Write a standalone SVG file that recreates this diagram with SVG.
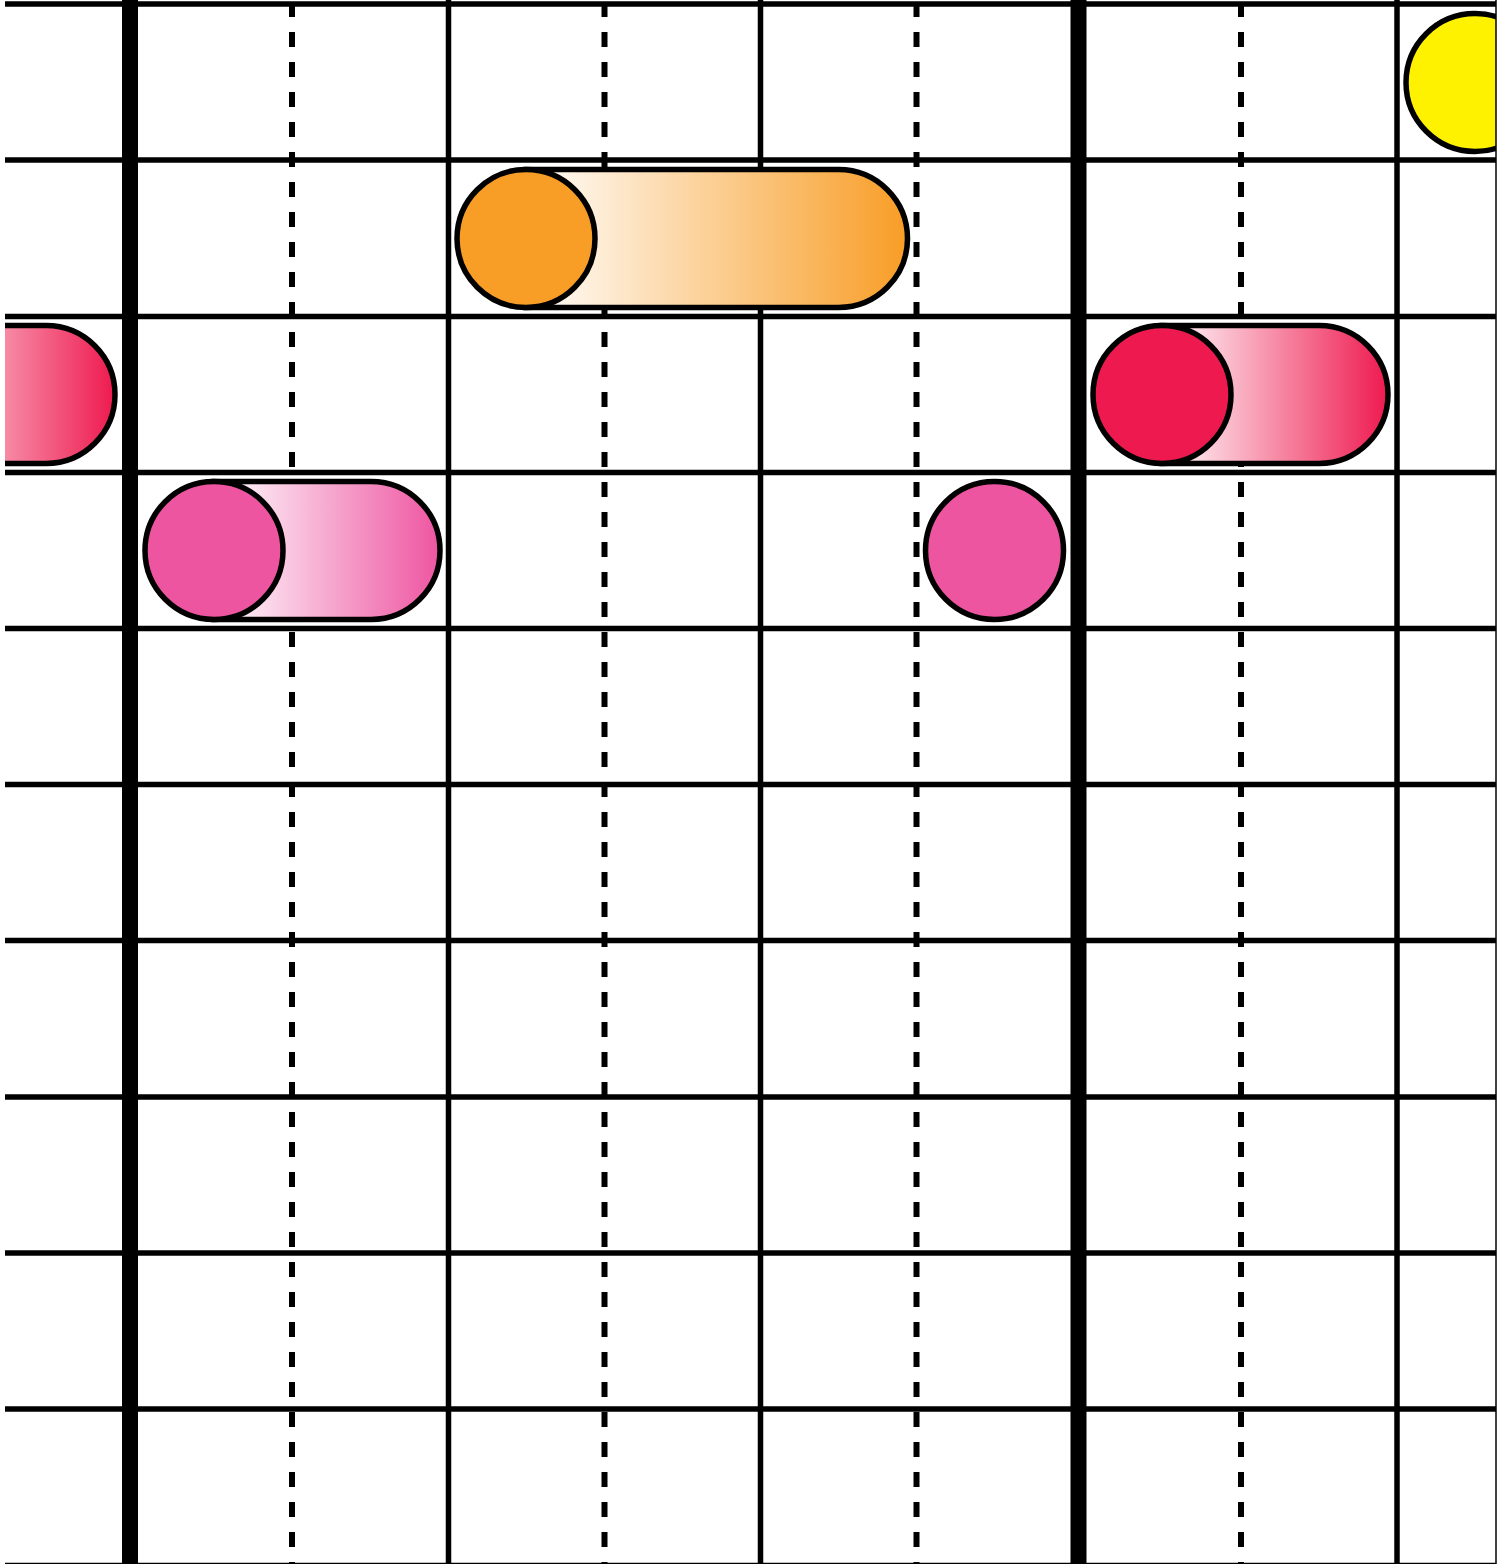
<svg xmlns="http://www.w3.org/2000/svg" width="1510" height="1564" viewBox="0 0 1510 1564">
<style>
.h{stroke:#000;stroke-width:5.5;fill:none}
.v{stroke:#000;stroke-width:5.5;fill:none}
.t{stroke:#000;stroke-width:16;fill:none}
.d{stroke:#000;stroke-width:6;stroke-dasharray:15 15;fill:none}
.n{stroke:#000;stroke-width:5.5}
</style>
<defs>
<clipPath id="clip"><rect x="5" y="0" width="1491" height="1564"/></clipPath>
<linearGradient id="gOr" x1="0" y1="0" x2="1" y2="0"><stop offset="0" stop-color="#fff"/><stop offset="1" stop-color="#F89D26"/></linearGradient>
<linearGradient id="gRed" x1="0" y1="0" x2="1" y2="0"><stop offset="0" stop-color="#fff"/><stop offset="1" stop-color="#EE1A4F"/></linearGradient>
<linearGradient id="gPk" x1="0" y1="0" x2="1" y2="0"><stop offset="0" stop-color="#fff"/><stop offset="1" stop-color="#EE55A1"/></linearGradient>
</defs>
<g clip-path="url(#clip)">
<g id="grid">
<line class="d" x1="292" y1="2" x2="292" y2="1564"/>
<line class="d" x1="604.5" y1="2" x2="604.5" y2="1564"/>
<line class="d" x1="916.5" y1="2" x2="916.5" y2="1564"/>
<line class="d" x1="1241" y1="2" x2="1241" y2="1564"/>
<line class="v" x1="448.5" y1="0" x2="448.5" y2="1564"/>
<line class="v" x1="760.5" y1="0" x2="760.5" y2="1564"/>
<line class="v" x1="1397" y1="0" x2="1397" y2="1564"/>
<line class="h" x1="0" y1="4" x2="1510" y2="4"/>
<line class="h" x1="0" y1="160" x2="1510" y2="160"/>
<line class="h" x1="0" y1="316.5" x2="1510" y2="316.5"/>
<line class="h" x1="0" y1="472.5" x2="1510" y2="472.5"/>
<line class="h" x1="0" y1="628.5" x2="1510" y2="628.5"/>
<line class="h" x1="0" y1="784.5" x2="1510" y2="784.5"/>
<line class="h" x1="0" y1="940.5" x2="1510" y2="940.5"/>
<line class="h" x1="0" y1="1097" x2="1510" y2="1097"/>
<line class="h" x1="0" y1="1253" x2="1510" y2="1253"/>
<line class="h" x1="0" y1="1409" x2="1510" y2="1409"/>
<line class="h" x1="0" y1="1565.5" x2="1510" y2="1565.5"/>
<line class="t" x1="130" y1="0" x2="130" y2="1564"/>
<line class="t" x1="1078.5" y1="0" x2="1078.5" y2="1564"/>
</g>
<g id="note-yellow">
<circle class="n" cx="1475" cy="82.5" r="69" fill="#FFF200"/>
</g>
<g id="note-orange">
<path class="n" d="M526,169.5 H838.5 A69,69 0 0 1 838.5,307.5 H526 Z" fill="url(#gOr)"/>
<circle class="n" cx="526" cy="238.5" r="69" fill="#F89D26"/>
</g>
<g id="note-red-left">
<path class="n" d="M-111,325.5 H46 A69,69 0 0 1 46,463.5 H-111 Z" fill="url(#gRed)"/>
<circle class="n" cx="-111" cy="394.5" r="69" fill="#EE1A4F"/>
</g>
<g id="note-red-right">
<path class="n" d="M1162,325.5 H1319 A69,69 0 0 1 1319,463.5 H1162 Z" fill="url(#gRed)"/>
<circle class="n" cx="1162" cy="394.5" r="69" fill="#EE1A4F"/>
</g>
<g id="note-pink-pill">
<path class="n" d="M214,481.5 H371 A69,69 0 0 1 371,619.5 H214 Z" fill="url(#gPk)"/>
<circle class="n" cx="214" cy="550.5" r="69" fill="#EE55A1"/>
</g>
<g id="note-pink-dot">
<circle class="n" cx="994.5" cy="550.5" r="69" fill="#EE55A1"/>
</g>
</g>
<line x1="1496" y1="0" x2="1496" y2="1564" stroke="#000" stroke-width="1.5"/>
</svg>
